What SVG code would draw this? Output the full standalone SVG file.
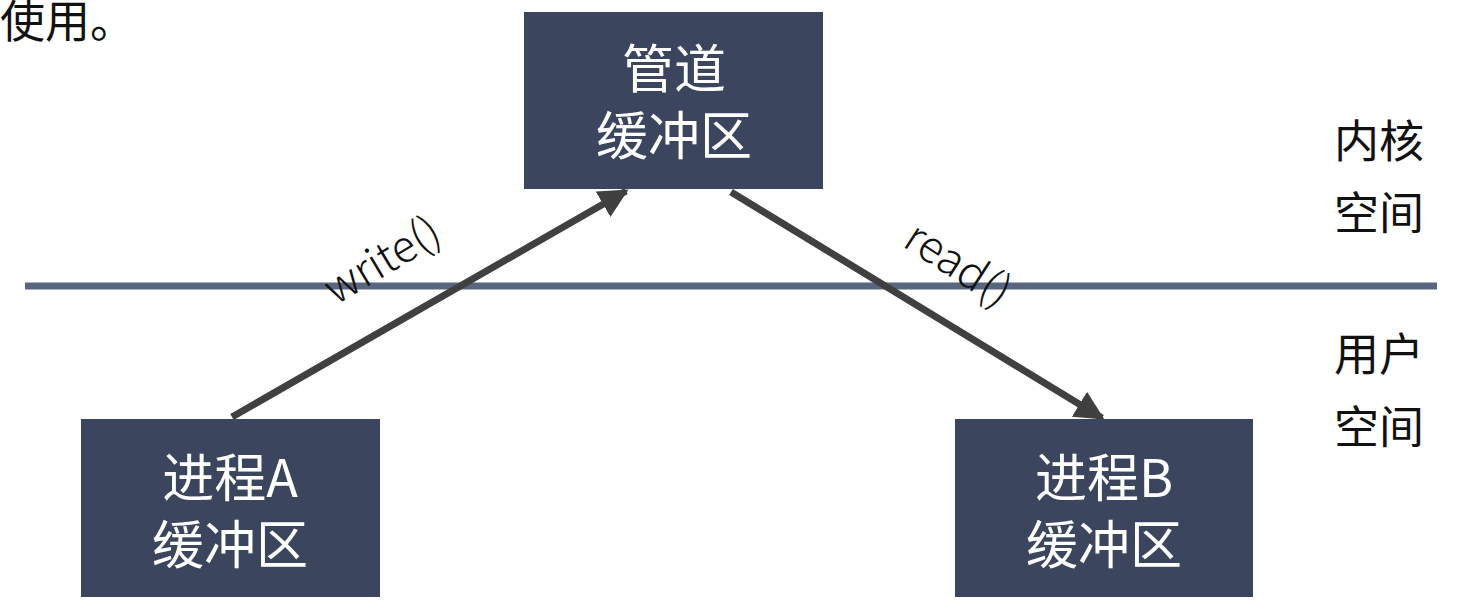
<svg xmlns="http://www.w3.org/2000/svg" width="1468" height="609" viewBox="0 0 1468 609">
<style>
.box{fill:#3b465e}
.bt{fill:#ffffff;font-family:"Noto Sans CJK SC","Noto Sans",sans-serif;font-size:52px;text-anchor:middle}
.lt{fill:#111111;font-family:"Noto Sans CJK SC","Noto Sans",sans-serif;font-size:45px}
.at{fill:#111111;font-family:"Noto Sans CJK SC","Noto Sans",sans-serif;font-size:44px;text-anchor:middle;font-weight:300}
.conn{stroke:#404040;stroke-width:7;fill:none;marker-end:url(#ah)}
</style>
<defs>
<marker id="ah" viewBox="0 0 10 10" refX="9" refY="5" markerWidth="4.2" markerHeight="4.2" orient="auto" markerUnits="strokeWidth">
<path d="M0,0 L10,5 L0,10 z" fill="#404040"/>
</marker>
</defs>
<rect width="1468" height="609" fill="#ffffff"/>
<text class="lt" x="0" y="38" font-size="48">使用。</text>
<line x1="25" y1="286" x2="1437" y2="286" stroke="#5a6580" stroke-width="7"/>
<g id="connectors">
<line class="conn" x1="232" y1="417" x2="626" y2="191"/>
<line class="conn" x1="731" y1="192" x2="1102" y2="418"/>
<text class="at" transform="translate(390,273) rotate(-31)">write()</text>
<text class="at" transform="translate(950,277) rotate(33)">read()</text>
</g>
<g id="pipe">
<rect class="box" x="524" y="12" width="299" height="177"/>
<text class="bt" x="674" y="88">管道</text>
<text class="bt" x="674" y="155">缓冲区</text>
</g>
<g id="procA">
<rect class="box" x="81" y="419" width="299" height="178"/>
<text class="bt" x="230" y="497">进程A</text>
<text class="bt" x="230" y="564">缓冲区</text>
</g>
<g id="procB">
<rect class="box" x="955" y="419" width="298" height="178"/>
<text class="bt" x="1104" y="497">进程B</text>
<text class="bt" x="1104" y="564">缓冲区</text>
</g>
<g id="labels">
<text class="lt" x="1334" y="158">内核</text>
<text class="lt" x="1334" y="230">空间</text>
<text class="lt" x="1334" y="371">用户</text>
<text class="lt" x="1334" y="444">空间</text>
</g>
</svg>
